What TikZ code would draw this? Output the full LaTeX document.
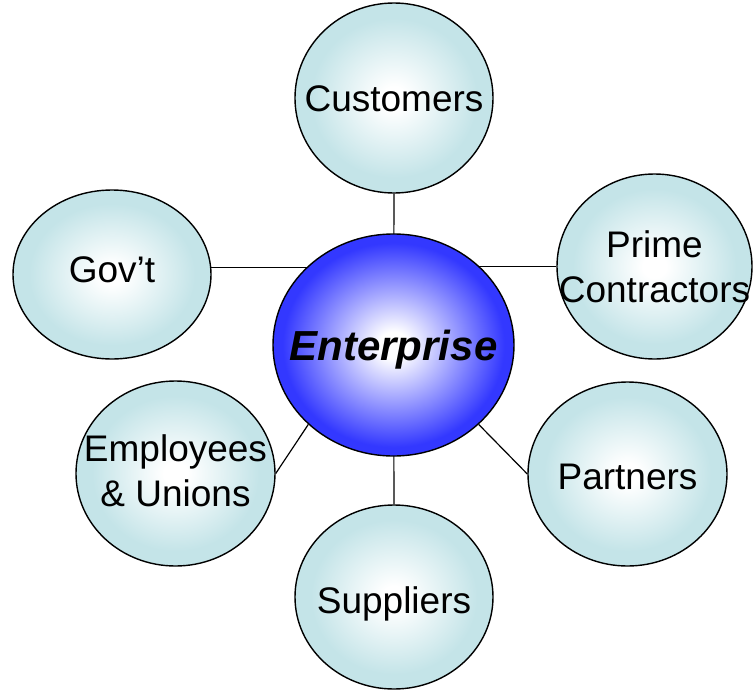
\documentclass[tikz,border=0pt]{standalone}
\usepackage{fontspec}
\setmainfont{Liberation Sans}
\usetikzlibrary{shapes.geometric}
\definecolor{satc}{RGB}{196,228,232}
\definecolor{entblue}{RGB}{51,56,255}
\pgfdeclareradialshading{satshade}{\pgfpoint{0bp}{0bp}}{color(0bp)=(white); color(3bp)=(white); color(21bp)=(satc); color(50bp)=(satc)}
\pgfdeclareradialshading{entshade}{\pgfpoint{0bp}{0bp}}{color(0bp)=(white); color(3bp)=(white); color(23bp)=(entblue); color(50bp)=(entblue)}
\pgfdeclarelayer{background}
\pgfsetlayers{background,main}
\newcommand{\ctext}[2]{\makebox[0pt]{\raisebox{#1}[0pt][0pt]{\begin{tabular}{@{}c@{}}#2\end{tabular}}}}
\tikzset{
  sat/.style={ellipse, draw=black, line width=1.4pt, shading=satshade, inner sep=0pt,
    font=\fontsize{37}{44.5}\selectfont},
  one/.style={text height=26.6pt, text depth=0pt},
  ent/.style={ellipse, draw=black, line width=1.4pt, shading=entshade, inner sep=0pt,
    font=\fontsize{42}{50}\selectfont\bfseries\itshape, text height=30.2pt, text depth=0pt},
  link/.style={draw=black, line width=1.2pt}
}
\begin{document}
\begin{tikzpicture}[x=1pt,y=-1pt]
\useasboundingbox (0,0) rectangle (753,691);
\node[ent, minimum width=241pt, minimum height=222pt] (ent) at (393.5,345) {\makebox[0pt]{Enterprise}};
\node[sat, one, minimum width=198pt, minimum height=190pt] (cust) at (394,98) {\makebox[0pt]{Customers}};
\node[sat, one, minimum width=198pt, minimum height=169pt] (gov) at (112,274.5) {\makebox[0pt]{\raisebox{5pt}{Gov’t}}};
\node[sat, text height=0pt, text depth=0pt, minimum width=195pt, minimum height=185pt] (prime) at (654.5,266.5) {\ctext{-11pt}{Prime\\Contractors}};
\node[sat, one, minimum width=199pt, minimum height=184pt] (part) at (627.5,474) {\makebox[0pt]{\raisebox{-2pt}{Partners}}};
\node[sat, one, minimum width=198pt, minimum height=184pt] (sup) at (394,597) {\makebox[0pt]{\raisebox{-3pt}{Suppliers}}};
\node[sat, text height=0pt, text depth=0pt, minimum width=199pt, minimum height=185pt] (emp) at (175.5,473.5) {\ctext{-8pt}{Employees\\\& Unions}};
\begin{pgfonlayer}{background}
\draw[link] (cust.south) -- (ent.center);
\draw[link] (sup.north) -- (ent.center);
\draw[link] (gov.4) -- (gov.4 -| ent.center);
\draw[link] (prime.west) -- (prime.west -| ent.center);
\draw[link] (emp.east) -- (ent.223);
\draw[link] (part.west) -- (ent.317);
\end{pgfonlayer}
\end{tikzpicture}
\end{document}
